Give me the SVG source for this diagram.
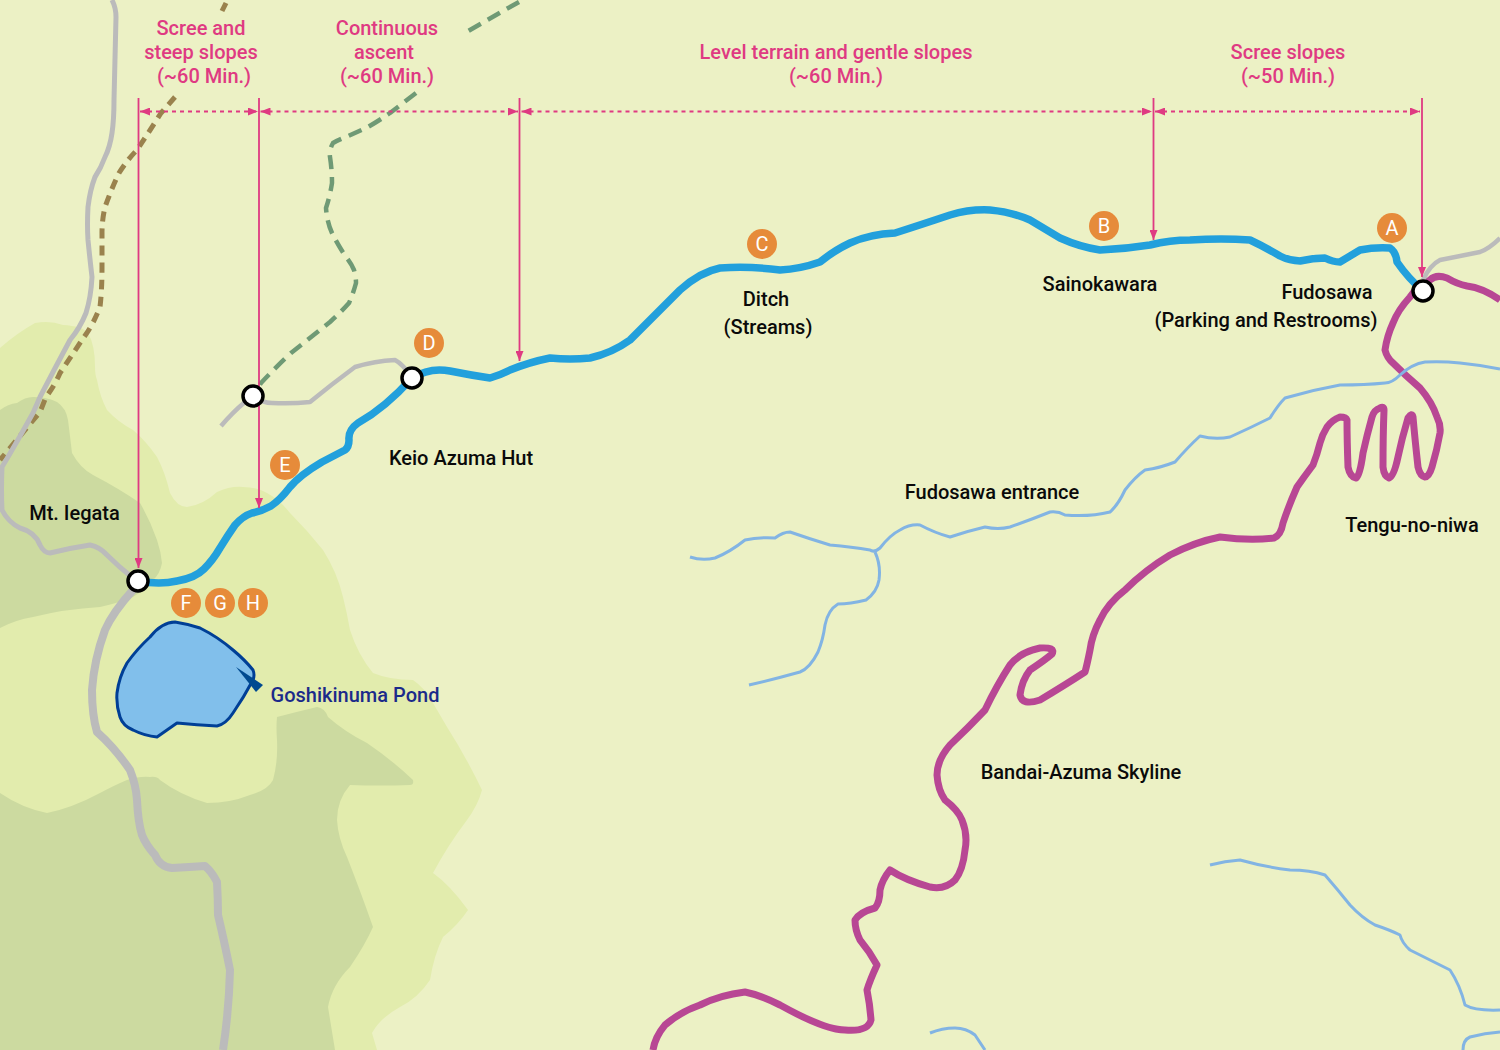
<svg xmlns="http://www.w3.org/2000/svg" width="1500" height="1050" viewBox="0 0 1500 1050">
<defs>
<marker id="ah" viewBox="0 0 10 8" refX="10" refY="4" markerWidth="10" markerHeight="8" markerUnits="userSpaceOnUse" orient="auto-start-reverse"><path d="M0 0L10 4L0 8Z" fill="#DF3A82"/></marker>
</defs>
<style>
.t{font-family:Roboto,"Liberation Sans",sans-serif;font-weight:500;font-size:20px;fill:#0a0a0a;text-anchor:middle}
.p{fill:#DF3A82}
.n{fill:#1B2A8A}
.b{font-family:Roboto,"Liberation Sans",sans-serif;font-size:20px;fill:#fff;text-anchor:middle}
.bc{fill:#E68B3A}
.l{fill:none;stroke-linecap:butt;stroke-linejoin:round}
.gray{stroke:#BBBBBB}
.road{stroke:#B84794;stroke-width:7}
.river{stroke:#82B4E3;stroke-width:3}
.route{stroke:#22A0DC;stroke-width:7.5}
.brown{stroke:#9A824D;stroke-width:5;stroke-dasharray:10 7}
.green{stroke:#6F9A75;stroke-width:4.5;stroke-dasharray:14 8}
.dim{stroke:#DF3A82;stroke-width:1.8;fill:none}
.dash{stroke-dasharray:4 4}
.stop{fill:#fff;stroke:#000;stroke-width:3.5}
</style>
<g id="terrain">
<rect width="1500" height="1050" fill="#ECF1C5"/>
<path fill="#E2ECAD" d="M0 348Q17 333 35 323Q50 320 63 325Q82 326 88 333Q95 345 95 367Q95 375 97 380Q100 397 107 410Q118 422 133 430Q146 441 157 457Q165 472 170 493Q177 507 187 507Q203 505 217 492Q230 486 243 487Q257 487 267 493Q280 500 290 513Q307 530 323 550Q337 572 343 597Q347 613 350 630Q358 655 373 673Q390 680 413 680Q425 688 433 703Q440 715 447 727Q465 755 482 790Q478 805 467 820Q448 845 433 873Q450 885 468 910Q458 925 443 937Q434 955 430 980Q418 998 400 1007Q380 1018 372 1033L377 1050L0 1050Z"/>
<path fill="#CCDAA0" d="M0 410Q8 404 17 403Q25 397 33 397Q47 397 57 402Q66 408 68 420Q70 436 72 453Q80 468 93 475Q118 488 140 503Q150 520 157 540Q161 552 162 563Q160 574 153 580Q145 590 133 597Q118 603 100 607Q65 609 33 617Q15 620 0 628Z"/>
<path fill="#CCDAA0" d="M0 793Q22 808 47 813Q72 808 100 793Q115 785 127 780Q140 776 150 777Q157 776 160 780Q180 795 207 803Q230 803 250 795Q268 790 273 780Q278 762 277 740Q276 727 277 717Q296 712 317 707Q325 708 328 717Q345 732 367 743Q392 760 413 780Q414 785 410 785Q380 786 350 785Q337 800 337 820Q338 838 347 857Q360 890 373 927Q365 945 350 967Q332 985 328 1007L335 1050L0 1050Z"/>
</g>
<g id="connectors">
<path class="l road" d="M1500 300Q1483 288 1467 286Q1457 284 1447 278Q1436 274 1430 280Q1418 285 1410 297Q1398 310 1393 323Q1387 336 1385 350Q1387 358 1393 363Q1406 376 1420 388Q1432 402 1437 417Q1441 425 1440 433Q1437 450 1432 467Q1429 477 1425 477Q1420 476 1418 467Q1415 440 1413 417Q1412 412 1408 418Q1402 438 1398 457Q1394 476 1389 478Q1384 476 1383 467Q1383 435 1384 410Q1384 406 1380 408Q1374 410 1372 417Q1367 435 1363 453Q1360 476 1356 478Q1350 477 1348 467Q1347 440 1347 420Q1346 417 1340 417Q1332 420 1327 427Q1322 435 1320 443Q1317 455 1313 465Q1304 477 1297 487Q1289 505 1283 523Q1281 535 1274 538Q1250 541 1220 537Q1195 542 1170 555Q1145 570 1125 590Q1108 603 1100 620Q1092 635 1090 650Q1087 665 1085 672Q1065 685 1040 700Q1022 706 1020 695Q1022 680 1030 670Q1045 660 1052 654Q1056 647 1040 648Q1020 652 1010 665Q997 685 985 710Q968 728 950 745Q937 760 937 775Q938 790 945 800Q958 810 962 820Q968 835 965 850Q963 870 955 880Q945 890 930 887Q905 880 890 870Q882 880 880 890Q880 902 875 908Q860 912 855 920Q855 930 860 940Q870 952 877 965Q870 980 867 990Q870 1005 871 1020Q868 1032 845 1030Q825 1030 780 1005Q760 995 745 992Q720 995 700 1005Q680 1012 665 1025Q655 1037 653 1050"/>
<path class="l river" d="M690 557Q702 561 715 558Q730 552 745 540Q758 537 775 538Q783 532 790 532Q810 539 830 545Q852 547 870 550Q874 553 880 548Q890 535 900 530Q910 524 920 525Q935 533 950 537Q968 531 985 527Q998 530 1010 527Q1030 520 1050 512Q1058 511 1065 515Q1090 517 1110 512Q1118 505 1125 490Q1135 477 1145 470Q1160 468 1175 462Q1188 447 1200 436Q1215 440 1230 437Q1250 428 1270 418Q1278 405 1285 398Q1312 390 1340 385Q1365 385 1385 383Q1392 383 1400 375Q1412 364 1425 362Q1442 361 1460 363Q1480 365 1500 369"/>
<path class="l river" d="M875 552Q881 565 879 580Q877 592 866 600Q850 604 838 604Q828 610 825 625Q823 640 818 652Q810 668 800 672Q775 679 749 685"/>
<path class="l river" d="M1210 865Q1225 861 1240 860Q1265 867 1290 870Q1310 870 1325 875Q1338 890 1350 905Q1362 918 1375 925Q1390 930 1400 935Q1402 943 1410 950Q1430 960 1450 970Q1460 985 1465 1005Q1475 1011 1500 1010"/>
<path class="l river" d="M930 1033Q942 1028 955 1028Q966 1028 975 1035L985 1050"/>
<path class="l river" d="M1500 1032Q1485 1033 1470 1037Q1463 1040 1463 1050"/>
<path class="l brown" d="M226 3L222 11"/>
<path class="l brown" d="M175 97Q168 105 161 113Q149 132 137 150Q127 160 119 173Q111 190 105 207Q102 220 102 233Q102 250 102 267Q102 290 100 307Q93 325 84 337Q72 355 60 373Q55 385 46 397L40 412Q20 436 0 460"/>
<path class="l gray" stroke-width="5" d="M112 0Q116 8 116 17Q115 58 114 100Q114 120 112 133Q110 147 105 157Q101 168 95 177Q90 190 88 207Q87 225 88 240Q90 260 92 277Q91 297 86 313Q80 328 70 340Q55 368 40 397Q37 404 33 413Q17 442 2 467Q1 490 2 510Q8 522 20 528Q35 532 40 545Q44 553 50 553Q70 548 90 545Q100 547 107 555Q120 568 133 578"/>
<path class="l gray" stroke-width="8" d="M133 590Q113 612 105 630Q94 660 92 690Q92 715 97 732Q115 748 130 770Q136 785 137 800Q138 822 142 835Q146 845 155 855Q160 867 172 868Q190 867 205 866Q212 872 217 882Q218 900 218 915Q224 940 230 970Q229 1010 223 1050"/>
<path class="l gray" stroke-width="4.5" d="M1423 280Q1430 265 1440 260Q1460 256 1480 252Q1490 248 1500 238"/>
<path class="l gray" stroke-width="4.5" d="M221 426Q233 412 245 402Q250 398 253 396Q262 403 272 403Q292 404 310 402Q332 384 355 367Q375 361 395 360Q403 364 412 378"/>
<path class="l green" d="M519 2Q492 17 465 33"/>
<path class="l green" d="M416 93Q403 103 390 113Q380 120 368 127Q357 132 346 137Q338 140 333 143Q329 150 330 157Q332 170 332 183Q330 196 326 208Q327 222 332 233Q338 245 346 257Q351 263 354 270Q356 277 356 283Q353 294 349 303Q340 313 330 322Q310 338 291 353Q275 368 261 383L253 396"/>
<path class="l route" d="M138 581Q160 585 177 581Q195 578 204 569Q213 560 220 548Q228 535 235 525Q243 516 252 513Q262 511 271 506Q280 500 290 487Q300 475 322 462L345 450Q349 447 349 440Q348 430 358 423Q385 408 412 378Q430 367 450 371Q470 375 490 378Q500 375 510 370Q530 362 550 358Q570 360 590 358Q612 353 630 340Q655 315 680 290Q700 272 720 268Q750 266 780 270Q800 269 820 262Q835 250 850 243Q870 234 895 233Q920 225 950 215Q970 209 990 210Q1012 212 1030 220Q1045 229 1060 238Q1080 247 1100 250Q1125 249 1150 245Q1170 240 1190 240Q1222 238 1250 240Q1265 247 1280 256Q1290 261 1300 261Q1313 258 1325 258Q1333 262 1340 262Q1350 256 1360 250Q1375 247 1390 248Q1396 252 1397 262Q1408 278 1423 291"/>
<path class="dim" marker-end="url(#ah)" d="M138.500 98V568"/>
<path class="dim" marker-end="url(#ah)" d="M259 98V508"/>
<path class="dim" marker-end="url(#ah)" d="M519.500 98V361"/>
<path class="dim" marker-end="url(#ah)" d="M1153.500 98V240"/>
<path class="dim" marker-end="url(#ah)" d="M1422 98V277"/>
<path class="dim dash" marker-start="url(#ah)" marker-end="url(#ah)" d="M140 111.500H258"/>
<path class="dim dash" marker-start="url(#ah)" marker-end="url(#ah)" d="M260.500 111.500H518"/>
<path class="dim dash" marker-start="url(#ah)" marker-end="url(#ah)" d="M521.500 111.500H1152"/>
<path class="dim dash" marker-start="url(#ah)" marker-end="url(#ah)" d="M1155 111.500H1420"/>
</g>
<g id="pond">
<path fill="#81BFEB" stroke="#003F96" stroke-width="3" stroke-linejoin="round" d="M175 622Q188 624 200 628Q218 637 233 650Q245 660 253 670Q255 675 253 680Q244 697 233 713Q226 724 217 726Q197 725 177 723Q167 730 157 737Q145 736 133 730Q123 726 120 717Q116 705 117 693Q119 677 127 663Q137 649 150 637Q162 622 175 622Z"/>
<path fill="#004A90" d="M236 667L263 685L256 692Z"/>
<text class="t n" x="355" y="702">Goshikinuma Pond</text>
</g>
<g id="stop-1"><circle class="stop" cx="138" cy="581" r="10"/></g>
<g id="stop-2"><circle class="stop" cx="253" cy="396" r="10"/></g>
<g id="stop-3"><circle class="stop" cx="412" cy="378" r="10"/></g>
<g id="stop-4"><circle class="stop" cx="1423" cy="291" r="10"/></g>
<g id="badge-a"><circle class="bc" cx="1392" cy="228" r="15"/><text class="b" x="1392" y="235">A</text></g>
<g id="badge-b"><circle class="bc" cx="1104" cy="226" r="15"/><text class="b" x="1104" y="233">B</text></g>
<g id="badge-c"><circle class="bc" cx="762" cy="244" r="15"/><text class="b" x="762" y="251">C</text></g>
<g id="badge-d"><circle class="bc" cx="429" cy="343" r="15"/><text class="b" x="429" y="350">D</text></g>
<g id="badge-e"><circle class="bc" cx="285" cy="465" r="15"/><text class="b" x="285" y="472">E</text></g>
<g id="badge-f"><circle class="bc" cx="186" cy="603" r="15"/><text class="b" x="186" y="610">F</text></g>
<g id="badge-g"><circle class="bc" cx="220" cy="603" r="15"/><text class="b" x="220" y="610">G</text></g>
<g id="badge-h"><circle class="bc" cx="253" cy="603" r="15"/><text class="b" x="253" y="610">H</text></g>
<g id="labels">
<text class="t" x="74.500" y="520">Mt. Iegata</text>
<text class="t" x="461" y="465">Keio Azuma Hut</text>
<text class="t" x="766" y="306">Ditch</text>
<text class="t" x="768" y="334">(Streams)</text>
<text class="t" x="1100" y="291">Sainokawara</text>
<text class="t" x="1327" y="299">Fudosawa</text>
<text class="t" x="1266" y="327">(Parking and Restrooms)</text>
<text class="t" x="1412" y="532">Tengu-no-niwa</text>
<text class="t" x="992" y="499">Fudosawa entrance</text>
<text class="t" x="1081" y="779">Bandai-Azuma Skyline</text>
</g>
<g id="section-labels">
<text class="t p" x="201" y="35">Scree and</text>
<text class="t p" x="201" y="59">steep slopes</text>
<text class="t p" x="204" y="83">(~60 Min.)</text>
<text class="t p" x="387" y="35">Continuous</text>
<text class="t p" x="384" y="59">ascent</text>
<text class="t p" x="387" y="83">(~60 Min.)</text>
<text class="t p" x="836" y="59">Level terrain and gentle slopes</text>
<text class="t p" x="836" y="83">(~60 Min.)</text>
<text class="t p" x="1288" y="59">Scree slopes</text>
<text class="t p" x="1288" y="83">(~50 Min.)</text>
</g>
</svg>
